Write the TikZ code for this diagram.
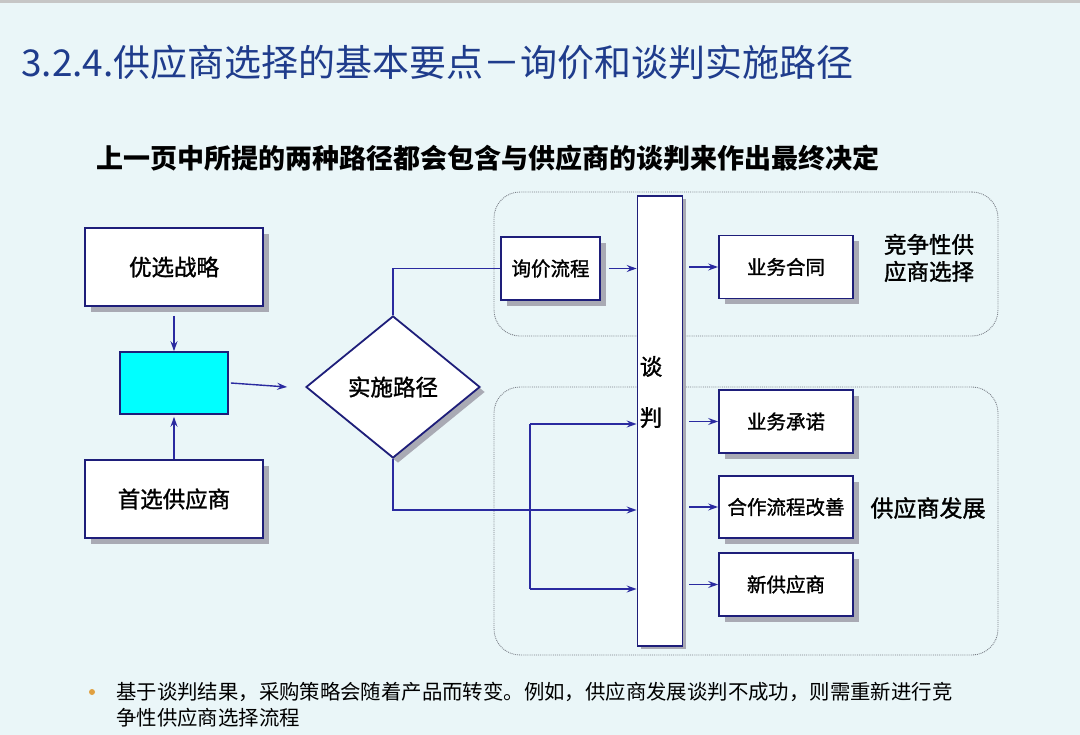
\documentclass[tikz,border=0pt]{standalone}
\usepackage{fontspec}
\setmainfont{Noto Sans CJK SC}
\newfontfamily\semib{Noto Sans CJK SC}[FakeBold=1.4]
\usetikzlibrary{shapes.geometric,arrows.meta,shadows}
\definecolor{bg}{HTML}{EAF6F8}
\definecolor{navy}{HTML}{1E1E7A}
\definecolor{arrowc}{HTML}{2A2AA0}
\definecolor{titlec}{HTML}{1F3C8C}
\definecolor{shade}{HTML}{A9AAB4}
\definecolor{cyanf}{HTML}{00FFFF}
\definecolor{bulletc}{HTML}{E0A040}
\definecolor{grpc}{HTML}{7A7F88}
\begin{document}
\begin{tikzpicture}[x=1pt,y=-1pt,
  box/.style={draw=navy,line width=1.8pt,fill=white,inner sep=0pt,
    drop shadow={shadow xshift=6pt,shadow yshift=-6pt,fill=shade,opacity=1}},
  bigtxt/.style={font=\semib\fontsize{22.5}{26}\selectfont},
  smtxt/.style={font=\semib\fontsize{19.5}{24}\selectfont},
  grp/.style={draw=grpc,densely dotted,line width=0.9pt,rounded corners=26pt,inner sep=0pt},
  line/.style={draw=arrowc,line width=1.4pt},
  arr/.style={line,-{Stealth[length=10pt,width=7pt,inset=3.5pt]}},
]
\useasboundingbox (0,0) rectangle (1080,735);
\fill[bg] (0,0) rectangle (1080,735);
\draw[gray!45,line width=3pt] (0,1.5) -- (1080,1.5);

% title and subtitle
\node[anchor=west,text=titlec,font=\fontsize{37}{40}\selectfont,inner sep=0pt] (title) at (21,62) {3.2.4.供应商选择的基本要点－询价和谈判实施路径};
\node[anchor=west,font=\bfseries\fontsize{27}{30}\selectfont,inner sep=0pt] (sub) at (96,158) {上一页中所提的两种路径都会包含与供应商的谈判来作出最终决定};

% groups
\node[grp,minimum width=504pt,minimum height=144pt] (g1) at (746,264) {};
\node[grp,minimum width=504pt,minimum height=268pt] (g2) at (746,521) {};

% left column
\node[box,bigtxt,minimum width=178pt,minimum height=78pt] (youxuan) at (174,267) {优选战略};
\node[draw=navy,line width=1.6pt,fill=cyanf,minimum width=108pt,minimum height=62pt,inner sep=0pt] (cyanbox) at (174,383) {};
\node[box,bigtxt,minimum width=178pt,minimum height=78pt] (shouxuan) at (174,499) {首选供应商};
\node[diamond,draw=navy,line width=1.8pt,fill=white,minimum width=174pt,minimum height=142pt,inner sep=0pt,
  drop shadow={shadow xshift=5pt,shadow yshift=-5pt,fill=shade,opacity=1},bigtxt] (path) at (393,387) {实施路径};

% middle
\node[box,smtxt,minimum width=99pt,minimum height=63pt] (xunjia) at (550.5,268.5) {询价流程};
\node[draw=navy,line width=1.8pt,fill=white,minimum width=45pt,minimum height=450pt,inner sep=0pt,
  drop shadow={shadow xshift=3pt,shadow yshift=-3pt,fill=shade,opacity=1}] (bar) at (660,421) {};
\node[align=center,inner sep=0pt,font=\semib\fontsize{22.5}{51}\selectfont] (tanpan) at (651,392) {谈\\判};

% right boxes
\node[box,smtxt,minimum width=134pt,minimum height=63pt] (hetong) at (786,267) {业务合同};
\node[box,smtxt,minimum width=134pt,minimum height=63pt] (chengnuo) at (786,421.5) {业务承诺};
\node[box,smtxt,minimum width=134pt,minimum height=62pt] (hezuo) at (786,507) {合作流程改善};
\node[box,smtxt,minimum width=134pt,minimum height=63pt] (xingong) at (786,584.5) {新供应商};

\node[font=\semib\fontsize{22.5}{27}\selectfont,align=center,inner sep=0pt] (lab1) at (929,258) {竞争性供\\应商选择};
\node[font=\semib\fontsize{23}{27}\selectfont,inner sep=0pt] (lab2) at (928,508) {供应商发展};

% connectors
\draw[arr] ([yshift=-9pt]youxuan.south) -- (cyanbox.north);
\draw[arr] (shouxuan.north) -- ([yshift=-2pt]cyanbox.south);
\draw[arr] ([xshift=2pt]cyanbox.east) -- ([xshift=-18pt]path.west);
\draw[line] (path.north) |- (xunjia.west);
\coordinate (m2) at (530,510);
\coordinate (b1) at (530,424);
\coordinate (b3) at (530,589);
\draw[line] (path.south) |- (m2);
\draw[arr] (m2) -- (bar.west |- m2);
\draw[line] (b1) -- (b3);
\draw[arr] (b1) -- (bar.west |- b1);
\draw[arr] (b3) -- (bar.west |- b3);
\draw[arr] ([xshift=8pt]xunjia.east) -- (bar.west |- xunjia.east);
\draw[arr] ([xshift=6pt]bar.east |- hetong.west) -- (hetong.west);
\draw[arr] ([xshift=6pt]bar.east |- chengnuo.west) -- (chengnuo.west);
\draw[arr] ([xshift=6pt]bar.east |- hezuo.west) -- (hezuo.west);
\draw[arr] ([xshift=6pt]bar.east |- xingong.west) -- (xingong.west);

% note
\node[circle,fill=bulletc,minimum size=6pt,inner sep=0pt] (dot) at (92,692) {};
\node[anchor=west,align=left,inner sep=0pt,font=\fontsize{20.4}{26}\selectfont] (note) at (116,705) {基于谈判结果，采购策略会随着产品而转变。例如，供应商发展谈判不成功，则需重新进行竞\\争性供应商选择流程};
\end{tikzpicture}
\end{document}
